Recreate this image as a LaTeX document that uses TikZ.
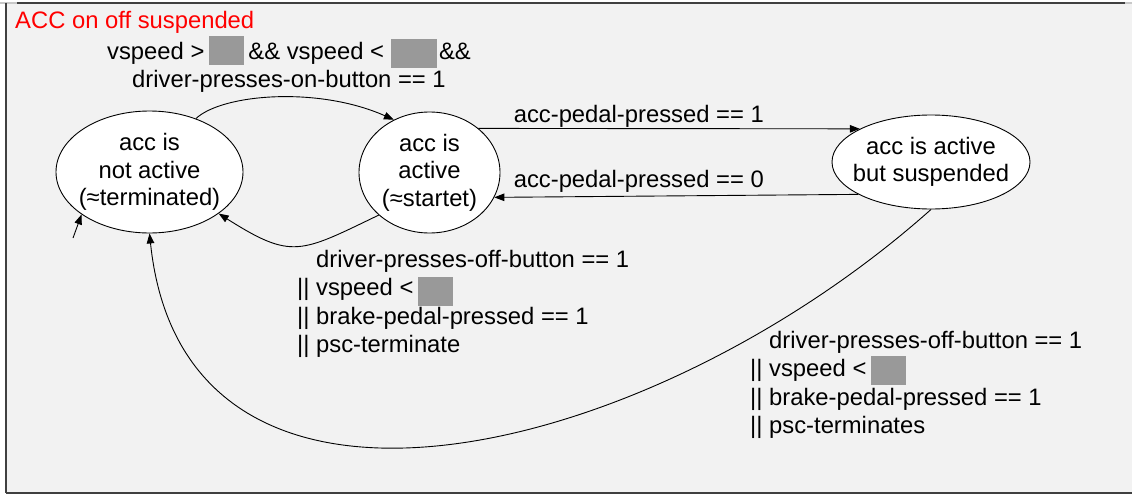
\documentclass[tikz,border=0pt]{standalone}
\usepackage{fontspec}
\setmainfont{Liberation Sans}
\usetikzlibrary{arrows.meta,shapes.geometric}
\definecolor{bg}{HTML}{F2F2F2}
\definecolor{boxgray}{HTML}{999999}
\definecolor{framedark}{HTML}{404040}
\definecolor{framelight}{HTML}{C8C8C8}
\newcommand{\grbox}[3]{\smash{\textcolor{boxgray}{\rule[#1]{#2}{#3}}}}
\tikzset{
  state/.style={ellipse, draw, fill=white, line width=0.9pt, inner sep=0pt},
  stxt/.style={align=center, font=\fontsize{23.8}{27.5}\selectfont, inner sep=0pt},
  lbl/.style={font=\fontsize{23.8}{28.6}\selectfont, inner sep=0pt},
  conn/.style={line width=0.9pt, -{Triangle[length=10pt,width=7.5pt]}},
}
\begin{document}
\begin{tikzpicture}[x=1pt,y=-1pt]
\useasboundingbox (0,0) rectangle (1132,495);
% frame
\fill[bg] (6,3) rectangle (1132,493);
\draw[framelight, line width=1.5pt] (0,3) -- (1132,3);
\draw[framedark, line width=1.5pt] (17,3) -- (1125,3);
\draw[framedark, line width=1.5pt] (6,3) -- (6,493);
\draw[framedark, line width=2pt] (6,493) -- (1132,493);
% title
\node[lbl, text=red, anchor=base west] (title) at (15,29) {ACC on off suspended};
% states
\node[state, minimum width=187pt, minimum height=122pt] (s1) at (149.5,172) {};
\node[stxt] (t1) at (s1) {acc is\\not active\\(≈terminated)};
\node[state, minimum width=141pt, minimum height=121pt] (s2) at (429.5,172.5) {};
\node[stxt] (t2) at (s2) {acc is\\active\\(≈startet)};
\node[state, minimum width=198pt, minimum height=94pt] (s3) at (931,162) {};
\node[stxt] (t3) at (s3) {acc is active\\but suspended};
% connectors
\coordinate (init) at (73,238);
\draw[conn] (init) -- (s1.212);
\draw[conn] (s1.49) .. controls (222,94) and (318,86) .. (s2.124);
\draw[conn] (s2.42) -- (s3.155);
\draw[conn] (s3.204) -- (s2.-21);
\draw[conn] (s2.220) .. controls (300,253) and (292,260) .. (s1.329);
\draw[conn] (s3.south) .. controls (650,460) and (185,575) .. (s1.south);
% labels (base = baseline of last line)
\node[lbl, align=center, anchor=base] (l1) at (289,87.6)
  {vspeed >\hspace{5pt}\grbox{-6pt}{35pt}{29pt}\hspace{4pt}\&\& vspeed <\hspace{7pt}\grbox{-9pt}{46pt}{29pt}\hspace{2pt}\&\&\\driver-presses-on-button == 1};
\node[lbl, anchor=base west] (l2) at (513.6,122.5) {acc-pedal-pressed == 1};
\node[lbl, anchor=base west] (l3) at (513.6,187) {acc-pedal-pressed == 0};
\node[lbl, align=left, anchor=base west] (l4) at (297,352.8)
  {\phantom{|| }driver-presses-off-button == 1\\|| vspeed <\hspace{5pt}\grbox{-10pt}{35pt}{29pt}\\|| brake-pedal-pressed == 1\\|| psc-terminate};
\node[lbl, align=left, anchor=base west] (l5) at (750,433.8)
  {\phantom{|| }driver-presses-off-button == 1\\|| vspeed <\hspace{5pt}\grbox{-8.5pt}{35pt}{29pt}\\|| brake-pedal-pressed == 1\\|| psc-terminates};
\end{tikzpicture}
\end{document}
